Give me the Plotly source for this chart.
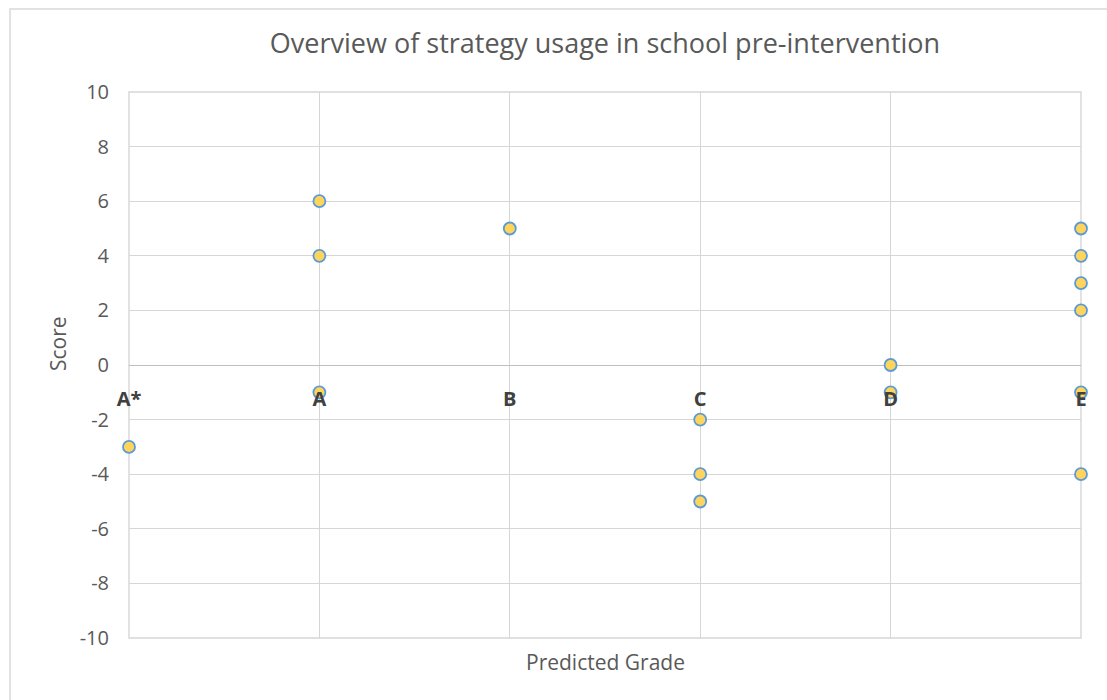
import plotly.graph_objects as go

# Predicted grades along the horizontal axis
grades = ["A*", "A", "B", "C", "D", "E"]

# Strategy-usage scores recorded for each predicted grade
scores_a_star = [-3]
scores_a = [6, 4, -1]
scores_b = [5]
scores_c = [-2, -4, -5]
scores_d = [0, -1]
scores_e = [5, 4, 3, 2, -1, -4]

y_ticks = list(range(-10, 11, 2))
y_tick_text = [str(v) for v in y_ticks]  # plain hyphen-minus labels

groups = [scores_a_star, scores_a, scores_b, scores_c, scores_d, scores_e]
xs, ys = [], []
for i, grp in enumerate(groups):
    xs.extend([i] * len(grp))
    ys.extend(grp)

font_family = "Open Sans, Lato, sans-serif"
grid_color = "#d6d6d6"

fig = go.Figure()
fig.add_trace(go.Scatter(
    x=xs, y=ys, mode="markers",
    marker=dict(size=12, color="#FFD45C", line=dict(color="#5B9BD5", width=1.8)),
    showlegend=False, cliponaxis=False,
))

L, R, T, B = 129, 26, 92, 62
W, H = 1107, 700
pw, ph = W - L - R, H - T - B

fig.update_layout(
    width=W, height=H,
    margin=dict(l=L, r=R, t=T, b=B),
    paper_bgcolor="white", plot_bgcolor="white",
    font=dict(family=font_family, color="#595959"),
    title=dict(
        text="Overview of strategy usage in school pre-intervention",
        x=(L + pw / 2) / W, xanchor="center",
        y=1 - 44 / H, yanchor="middle",
        font=dict(size=27, color="#595959", family=font_family),
    ),
    xaxis=dict(
        range=[0, len(grades) - 1],
        tickmode="array", tickvals=list(range(len(grades))), ticktext=grades,
        showgrid=True, gridcolor=grid_color, gridwidth=1.4,
        zeroline=False, showline=False, ticks="",
        anchor="free", position=0.5, side="bottom",
        ticklabelstandoff=20,
        tickfont=dict(size=20, color="#404040", family="Open Sans, sans-serif", weight="bold"),
    ),
    yaxis=dict(
        range=[-10, 10],
        tickmode="array", tickvals=y_ticks, ticktext=y_tick_text,
        showgrid=True, gridcolor=grid_color, gridwidth=1.4,
        zeroline=True, zerolinecolor="#bfbfbf", zerolinewidth=1.4,
        showline=False, ticks="",
        ticklabelstandoff=19,
        tickfont=dict(size=20, color="#595959"),
    ),
    shapes=[
        # chart-area border
        dict(type="rect", xref="paper", yref="paper",
             x0=(10 - L) / pw, x1=(1112 - L) / pw,
             y0=(H - B - 705) / ph, y1=(H - B - 9) / ph,
             line=dict(color="#d9d9d9", width=1.5), layer="below"),
        # plot-area frame (left/right/top/bottom edges)
        dict(type="rect", xref="paper", yref="paper", x0=0, x1=1, y0=0, y1=1,
             line=dict(color=grid_color, width=1.4), layer="below"),
    ],
    annotations=[
        dict(text="Predicted Grade", xref="paper", yref="paper",
             x=0.5, y=(H - B - 662) / ph, xanchor="center", yanchor="middle",
             showarrow=False, font=dict(size=21, color="#595959")),
        dict(text="Score", xref="paper", yref="paper", textangle=-90,
             x=(58 - L) / pw, y=(H - B - 344) / ph, xanchor="center", yanchor="middle",
             showarrow=False, font=dict(size=21, color="#595959")),
    ],
)

fig.write_html("out.html")
